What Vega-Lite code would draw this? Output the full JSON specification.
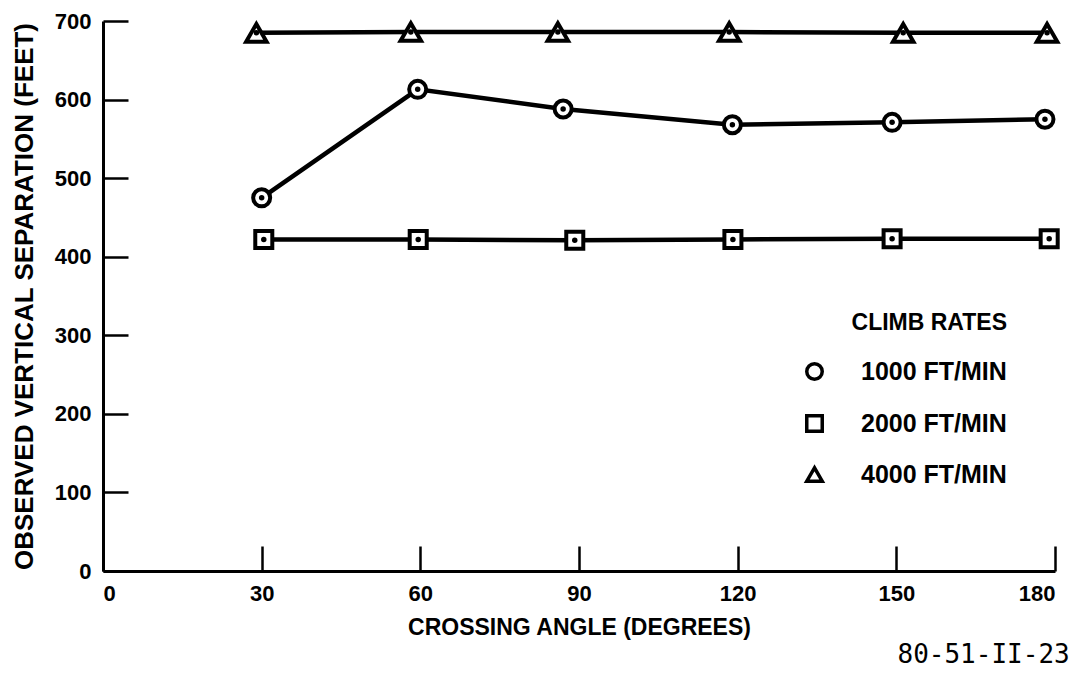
{
  "$schema": "https://vega.github.io/schema/vega-lite/v6.json",
  "width": 952,
  "height": 550,
  "autosize": {"type": "none"},
  "padding": {"left": 103, "top": 21, "right": 25, "bottom": 108},
  "background": "white",
  "title": {
    "text": "80-51-II-23",
    "orient": "bottom",
    "anchor": "end",
    "font": "DejaVu Sans Mono",
    "fontSize": 26,
    "fontWeight": "normal",
    "color": "black",
    "offset": 3,
    "dx": 4
  },
  "config": {
    "view": {"stroke": null},
    "font": "Liberation Sans",
    "axis": {
      "domainColor": "black",
      "domainWidth": 3,
      "tickColor": "black",
      "tickWidth": 2.5,
      "tickSize": -25,
      "labelPadding": 37,
      "labelFont": "Liberation Sans",
      "labelFontSize": 22,
      "labelFontWeight": "bold",
      "labelColor": "black",
      "titleFont": "Liberation Sans",
      "titleFontWeight": "bold",
      "titleColor": "black",
      "grid": false
    }
  },
  "data": {
    "values": [
      {"rate": "1000 FT/MIN", "angle": 30, "sep": 475},
      {"rate": "1000 FT/MIN", "angle": 59.5, "sep": 613},
      {"rate": "1000 FT/MIN", "angle": 87, "sep": 588},
      {"rate": "1000 FT/MIN", "angle": 119, "sep": 568},
      {"rate": "1000 FT/MIN", "angle": 149.2, "sep": 571},
      {"rate": "1000 FT/MIN", "angle": 178.1, "sep": 575},
      {"rate": "2000 FT/MIN", "angle": 30.4, "sep": 422},
      {"rate": "2000 FT/MIN", "angle": 59.6, "sep": 422},
      {"rate": "2000 FT/MIN", "angle": 89.2, "sep": 421},
      {"rate": "2000 FT/MIN", "angle": 119.1, "sep": 422},
      {"rate": "2000 FT/MIN", "angle": 149.2, "sep": 423},
      {"rate": "2000 FT/MIN", "angle": 178.9, "sep": 423},
      {"rate": "4000 FT/MIN", "angle": 29, "sep": 685},
      {"rate": "4000 FT/MIN", "angle": 58.2, "sep": 686},
      {"rate": "4000 FT/MIN", "angle": 86, "sep": 686},
      {"rate": "4000 FT/MIN", "angle": 118.4, "sep": 686},
      {"rate": "4000 FT/MIN", "angle": 151.3, "sep": 685},
      {"rate": "4000 FT/MIN", "angle": 178.5, "sep": 685}
    ]
  },
  "encoding": {
    "x": {
      "field": "angle",
      "type": "quantitative",
      "scale": {"domain": [0, 180], "nice": false, "zero": false},
      "axis": {
        "values": [0, 30, 60, 90, 120, 150, 180],
        "title": "CROSSING ANGLE (DEGREES)",
        "titleFontSize": 23,
        "titlePadding": 12
      }
    },
    "y": {
      "field": "sep",
      "type": "quantitative",
      "scale": {"domain": [0, 700], "nice": false},
      "axis": {
        "values": [0, 100, 200, 300, 400, 500, 600, 700],
        "title": "OBSERVED VERTICAL SEPARATION (FEET)",
        "titleFontSize": 26,
        "titlePadding": 17
      }
    }
  },
  "layer": [
    {
      "mark": {"type": "line", "color": "black", "strokeWidth": 4.5},
      "encoding": {"detail": {"field": "rate"}}
    },
    {
      "mark": {"type": "point", "filled": false, "fill": "white", "color": "black", "strokeWidth": 4, "opacity": 1},
      "encoding": {
        "size": {
          "condition": {"test": "datum.rate === '4000 FT/MIN'", "value": 420},
          "value": 290
        },
        "shape": {
          "field": "rate",
          "type": "nominal",
          "scale": {
            "domain": ["1000 FT/MIN", "2000 FT/MIN", "4000 FT/MIN"],
            "range": ["circle", "square", "triangle-up"]
          },
          "legend": {
            "title": "CLIMB RATES",
            "orient": "none",
            "legendX": 699,
            "legendY": 291,
            "padding": 0,
            "titleFont": "Liberation Sans",
            "titleFontSize": 23,
            "titleFontWeight": "bold",
            "titleColor": "black",
            "titleAnchor": "end",
            "titlePadding": 24,
            "labelFont": "Liberation Sans",
            "labelFontSize": 25,
            "labelFontWeight": "bold",
            "labelColor": "black",
            "labelOffset": 34,
            "rowPadding": 21,
            "symbolSize": 240,
            "symbolStrokeWidth": 3.5,
            "encode": {
              "symbols": {
                "update": {
                  "strokeWidth": {"value": 3.5}
                }
              }
            }
          }
        }
      }
    },
    {
      "mark": {"type": "point", "shape": "circle", "filled": true, "color": "black", "size": 30, "opacity": 1}
    }
  ]
}
